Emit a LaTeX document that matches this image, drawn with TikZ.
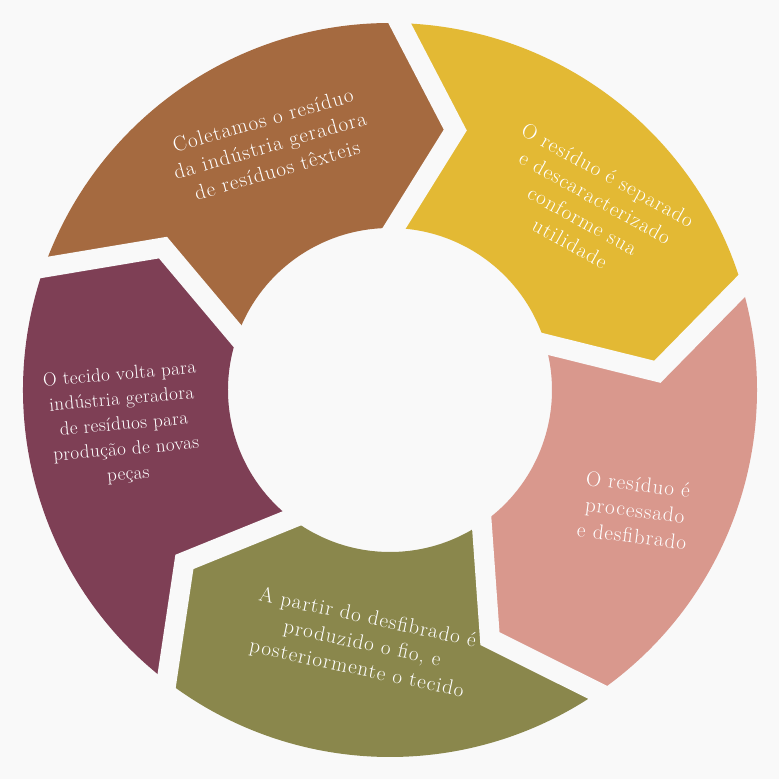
\documentclass[tikz,border=0pt]{standalone}
\usepackage{fontspec}
\usepackage{tikz}
\usetikzlibrary{calc}
\newfontfamily\stepfont{Latin Modern Roman}[LetterSpace=5]
\newfontfamily\narrowstepfont{Latin Modern Roman}[LetterSpace=2]
\definecolor{bgc}{HTML}{F9F9F9}
\definecolor{brownc}{HTML}{A56A40}
\definecolor{yellowc}{HTML}{E3B934}
\definecolor{pinkc}{HTML}{D9988D}
\definecolor{greenc}{HTML}{8A874C}
\definecolor{purplec}{HTML}{7E3F55}
\tikzset{
gap/.style={draw=bgc,line width=20pt,line join=miter,miter limit=10},
steptext/.style={text=white,align=center,font=\stepfont\fontsize{21}{26}\selectfont}
}

\begin{document}
\begin{tikzpicture}
\useasboundingbox(-390pt,-389pt)rectangle(389pt,390pt);
\fill[bgc](-390pt,-389pt)rectangle(389pt,390pt);
% ring segments, each one starts at angle \a and runs 72 degrees clockwise
\foreach \a/\c in {160.5/brownc,88.5/yellowc,16.5/pinkc,-55.5/greenc,-127.5/purplec}{
  \fill[\c](\a:367pt) arc[start angle=\a,end angle=\a-72,radius=367pt]
    --(\a-84.6:268pt)--(\a-72:162pt)
    arc[start angle=\a-72,end angle=\a,radius=162pt]
    --(\a-12.6:268pt)--cycle;
}
% white chevrons between the segments
\foreach \a in {160.5,88.5,16.5,-55.5,-127.5}{
  \coordinate(tip) at (\a-12.6:268pt);
  \coordinate(outer) at (\a:367pt);
  \coordinate(inner) at (\a:162pt);
  \draw[gap]($(tip)!1.15!(outer)$)--(tip)--($(tip)!1.15!(inner)$);
}
\node[steptext,rotate=16](collect) at (-120pt,245pt){Coletamos o resíduo\\da indústria geradora\\de resíduos têxteis};
\node[steptext,rotate=-29](separate) at (199pt,181pt){O resíduo é separado\\e descaracterizado\\conforme sua\\utilidade};
\node[steptext,rotate=-7](process) at (245pt,-120pt){O resíduo é\\processado\\e desfibrado};
\node[steptext,rotate=-12](yarn) at (-28pt,-254pt){A partir do desfibrado é\\produzido o fio, e\\posteriormente o tecido};
\node[steptext,rotate=5,font=\narrowstepfont\fontsize{19}{25}\selectfont](back) at (-266pt,-35pt){O tecido volta para\\indústria geradora\\de resíduos para\\produção de novas\\peças};
\end{tikzpicture}
\end{document}
